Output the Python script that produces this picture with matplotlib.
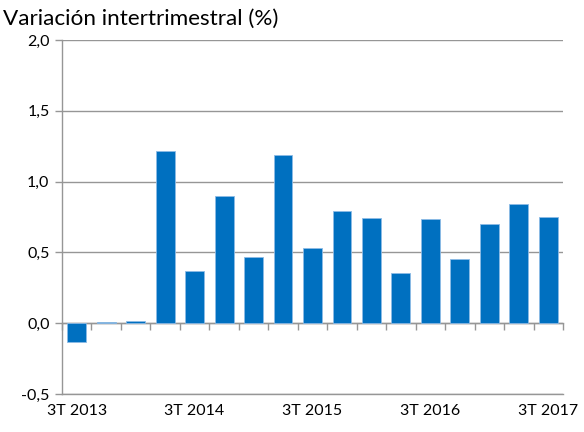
import matplotlib
matplotlib.use("Agg")
import matplotlib.pyplot as plt
import numpy as np

quarters = ["3T 2013", "4T 2013", "1T 2014", "2T 2014", "3T 2014", "4T 2014",
            "1T 2015", "2T 2015", "3T 2015", "4T 2015", "1T 2016", "2T 2016",
            "3T 2016", "4T 2016", "1T 2017", "2T 2017", "3T 2017"]
values = [-0.13, 0.005, 0.015, 1.215, 0.368, 0.898, 0.464, 1.185, 0.533,
          0.789, 0.743, 0.354, 0.735, 0.455, 0.702, 0.844, 0.752]
yticks = [-0.5, 0.0, 0.5, 1.0, 1.5, 2.0]
ytick_labels = ["-0,5", "0,0", "0,5", "1,0", "1,5", "2,0"]
title = "Variación intertrimestral (%)"

plt.rcParams['font.family'] = ['Lato', 'DejaVu Sans']
grey = "#969696"

fig = plt.figure(figsize=(5.84, 4.32), dpi=100)
ax = fig.add_axes([62/584, 1-394/432, (563-62)/584, (394-40)/432])

x = np.arange(len(values))
ax.bar(x, values, width=0.64, color="#0070C0", edgecolor="#8DBBE6", linewidth=0.6, zorder=3)

ax.set_xlim(-0.5, len(values) - 0.5)
ax.set_ylim(-0.5, 2.0)
ax.set_yticks(yticks)
ax.set_yticklabels(ytick_labels, fontsize=11.5)
ax.yaxis.grid(True, color=grey, linewidth=1.0, zorder=0)
ax.set_axisbelow(True)

label_idx = list(range(0, len(values), 4))
ax.set_xticks(label_idx)
ax.set_xticklabels([quarters[i] for i in label_idx], fontsize=11.5)
ax.tick_params(axis='x', length=0, pad=7)
ax.tick_params(axis='y', length=5, color=grey, width=1.0, pad=4, direction='out')

for s in ['top', 'right']:
    ax.spines[s].set_visible(False)
for s in ['left', 'bottom']:
    ax.spines[s].set_color(grey)
    ax.spines[s].set_linewidth(1.0)

# zero axis with category boundary ticks
zero_loc = (0 - (-0.5)) / (2.0 - (-0.5))
sec = ax.secondary_xaxis(zero_loc)
sec.set_xticks(np.arange(-0.5, len(values), 1.0))
sec.set_xticklabels([])
sec.tick_params(axis='x', length=5, color=grey, width=1.0, direction='out')
sec.spines['bottom'].set_color(grey)
sec.spines['bottom'].set_linewidth(1.0)
sec.spines['bottom'].set_zorder(4)

fig.text(3/584, 1-19/432, title, fontsize=16.2, va='center', ha='left')

fig.savefig("out.png", dpi=100)
